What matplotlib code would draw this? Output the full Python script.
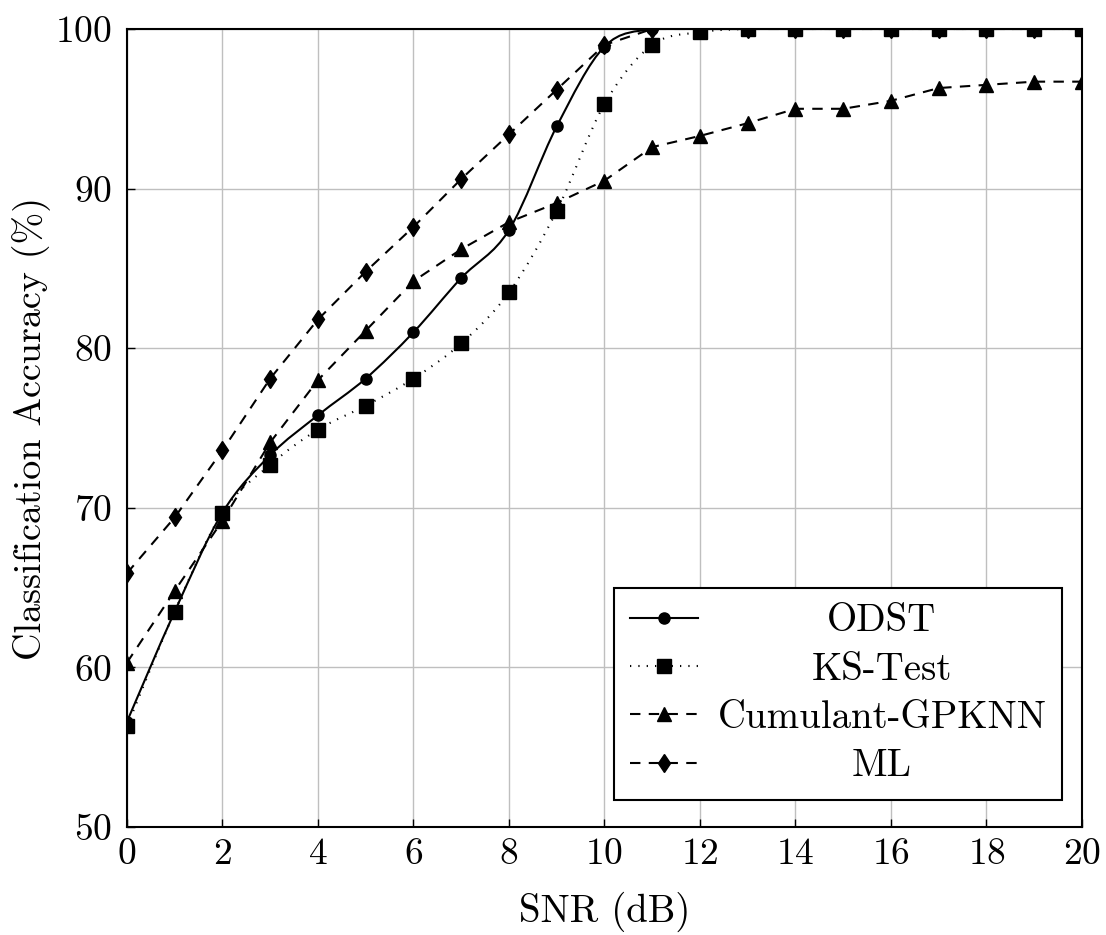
import numpy as np
import matplotlib
matplotlib.use("Agg")
import matplotlib.pyplot as plt
from matplotlib.path import Path
from matplotlib.patches import PathPatch
from matplotlib.lines import Line2D

plt.rcParams["font.family"] = "serif"
plt.rcParams["font.serif"] = ["cmr10", "DejaVu Serif"]
plt.rcParams["mathtext.fontset"] = "cm"
plt.rcParams["axes.formatter.use_mathtext"] = True

snr = [0, 1, 2, 3, 4, 5, 6, 7, 8, 9, 10, 11, 12, 13, 14, 15, 16, 17, 18, 19, 20]
odst = [56.6, 63.5, 69.7, 73.3, 75.8, 78.1, 81.0, 84.4, 87.4, 93.9, 98.9,
        100, 100, 100, 100, 100, 100, 100, 100, 100, 100]
ks_test = [56.3, 63.5, 69.7, 72.7, 74.9, 76.4, 78.1, 80.3, 83.5, 88.6, 95.3,
           99.0, 99.8, 100, 100, 100, 100, 100, 100, 100, 100]
cumulant = [60.3, 64.8, 69.2, 74.1, 78.0, 81.1, 84.2, 86.2, 87.9, 89.1, 90.5,
            92.6, 93.3, 94.1, 95.0, 95.0, 95.5, 96.3, 96.5, 96.7, 96.7]
ml = [65.9, 69.4, 73.6, 78.1, 81.8, 84.8, 87.6, 90.6, 93.4, 96.2, 99.0,
      100, 100, 100, 100, 100, 100, 100, 100, 100, 100]
labels = ["ODST", "KS-Test", "Cumulant-GPKNN", "ML"]


def smooth_path(x, y):
    # courbe de Bezier type "smooth" de TikZ
    x = np.asarray(x, float)
    y = np.asarray(y, float)
    verts = [(x[0], y[0])]
    codes = [Path.MOVETO]
    n = len(x)
    for i in range(n - 1):
        xm, ym = (x[i - 1], y[i - 1]) if i > 0 else (x[i], y[i])
        xp, yp = (x[i + 2], y[i + 2]) if i + 2 < n else (x[i + 1], y[i + 1])
        c1 = (x[i] + (x[i + 1] - xm) / 6, y[i] + (y[i + 1] - ym) / 6)
        c2 = (x[i + 1] - (xp - x[i]) / 6, y[i + 1] - (yp - y[i]) / 6)
        verts += [c1, c2, (x[i + 1], y[i + 1])]
        codes += [Path.CURVE4] * 3
    return Path(verts, codes)


fig = plt.figure(figsize=(11.06, 9.35), dpi=100)
ax = fig.add_axes([0.1148, 0.1155, 0.8635, 0.8535])

lw = 1.5
dots = (0, (0.6, 3.4))
dash = (0, (5, 4))
ax.add_patch(PathPatch(smooth_path(snr, odst), fill=False, lw=lw, color="black", zorder=3))
ax.plot(snr, odst, ls="none", marker="o", ms=8, color="black", zorder=4)

ax.add_patch(PathPatch(smooth_path(snr, ks_test), fill=False, lw=lw, color="black",
                       ls=dots, zorder=3))
ax.plot(snr, ks_test, ls="none", marker="s", ms=10.5, color="black", zorder=4)

ax.plot(snr, cumulant, ls=dash, lw=lw, marker="^", ms=10, color="black", zorder=3)
ax.plot(snr, ml, ls=dash, lw=lw, marker="d", ms=9.5, color="black", zorder=3)

ax.set_xlim(0, 20)
ax.set_ylim(50, 100)
ax.set_xticks(np.arange(0, 21, 2))
ax.set_yticks(np.arange(50, 101, 10))
ax.grid(True, color="#bfbfbf", lw=1.0)
ax.set_axisbelow(True)
ax.tick_params(direction="in", labelsize=27, length=6, width=1.0)
ax.tick_params(axis="x", pad=8)
ax.tick_params(axis="y", pad=11)
for s in ax.spines.values():
    s.set_linewidth(1.5)

ax.set_xlabel("SNR (dB)", fontsize=28)
ax.set_ylabel("Classification Accuracy (%)", fontsize=27.5, va="center")
ax.xaxis.set_label_coords(0.5, -0.081)
ax.yaxis.set_label_coords(-0.0995, 0.5)

handles = [
    Line2D([], [], color="black", lw=lw, marker="o", ms=8),
    Line2D([], [], color="black", lw=lw, ls=dots, marker="s", ms=10.5),
    Line2D([], [], color="black", lw=lw, ls=dash, marker="^", ms=10),
    Line2D([], [], color="black", lw=lw, ls=dash, marker="d", ms=9.5),
]
leg = ax.legend(handles, labels, loc="lower right", bbox_to_anchor=(0.979, 0.034),
                fontsize=28, frameon=True, fancybox=False, edgecolor="black",
                framealpha=1, handlelength=1.75, handletextpad=0.5, borderpad=0.4,
                labelspacing=0.32, borderaxespad=0)
leg.get_frame().set_linewidth(1.5)

# centrer les textes de la légende (comme pgfplots)
fig.canvas.draw()
renderer = fig.canvas.get_renderer()
exts = [t.get_window_extent(renderer) for t in leg.get_texts()]
x_left = min(e.x0 for e in exts)
x_mid = x_left + max(e.width for e in exts) / 2
inv = fig.transFigure.inverted()
for t, e in zip(leg.get_texts(), exts):
    xb, yb = t.get_transform().transform(t.get_position())
    fx, fy = inv.transform((x_mid, yb))
    fig.text(fx, fy, t.get_text(), fontsize=28, ha="center", va="baseline", zorder=10)
    t.set_visible(False)

fig.savefig("out.png", dpi=100)
plt.close("all")
